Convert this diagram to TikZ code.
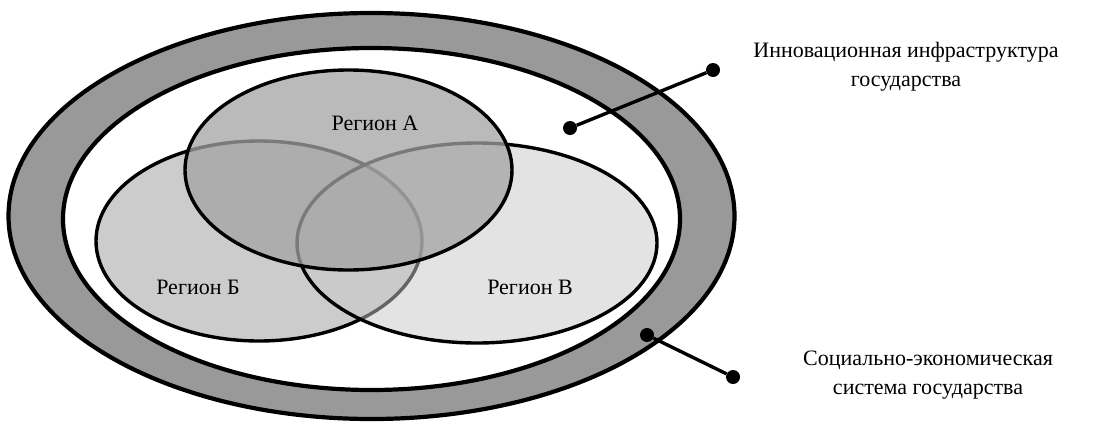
\documentclass[tikz,border=0pt]{standalone}
\usepackage{fontspec}
\setmainfont{LiberationSerif}[Extension=.ttf,UprightFont=*-Regular]
\definecolor{ringgray}{gray}{0.6}
\definecolor{regA}{gray}{0.64}
\definecolor{regB}{gray}{0.8}
\definecolor{regV}{gray}{0.79}
\begin{document}
\begin{tikzpicture}[x=1pt,y=-1pt,
  ring/.style={line width=4.2pt},
  region/.style={line width=3.4pt},
  pin/.style={circle,fill=black,inner sep=0pt,minimum size=14pt},
  lbl/.style={font=\fontsize{22}{29}\selectfont,align=center}]
\useasboundingbox (0,0) rectangle (1110,421);
% socio-economic system (ring)
\draw[ring,fill=ringgray] (371.5,216) ellipse (363 and 203);
\draw[ring,fill=white] (371.5,219) ellipse (308.5 and 171);
% regions
\draw[region,fill=regB] (259,241) ellipse (163 and 100);
\draw[region,fill=regV,fill opacity=0.5] (477,243) ellipse (180 and 100);
\draw[region,fill=regA,fill opacity=0.75] (348.5,170) ellipse (163.5 and 100);
\node[lbl] (regA) at (375,123) {Регион А};
\node[lbl] (regB) at (198,287) {Регион Б};
\node[lbl] (regV) at (530,287) {Регион В};
% pointers
\node[pin] (infra) at (713,70) {};
\node[pin] (infrain) at (570,128) {};
\draw[region] (infra) -- (infrain);
\node[pin] (socin) at (647,335) {};
\node[pin] (soc) at (733,377) {};
\draw[region] (socin) -- (soc);
\node[lbl] (infralbl) at (906,67) {Инновационная инфраструктура\\государства};
\node[lbl] (soclbl) at (928,375) {Социально-экономическая\\система государства};
\end{tikzpicture}
\end{document}
